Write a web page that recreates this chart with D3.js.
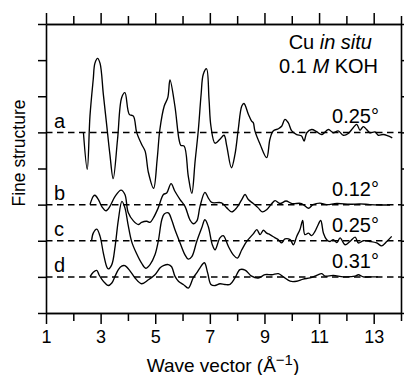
<!DOCTYPE html>
<html>
<head>
<meta charset="utf-8">
<script src="https://cdn.jsdelivr.net/npm/d3@7"></script>
<style>
  body { margin: 0; background: #fff; }
  svg { display: block; font-family: "Liberation Sans", Arial, Helvetica, sans-serif; }
</style>
</head>
<body>
<svg id="chart" width="404" height="375"></svg>
<script>
// ---------------- data ----------------
const majorTicks = [1, 3, 5, 7, 9, 11, 13];
const minorTicks = [2, 4, 6, 8, 10, 12, 14];
const yTicks = [0, 1, 2, 3, 4, 5, 6, 7, 8];
const curveNames = ["a", "b", "c", "d"];
const angleLabels = ["0.25°", "0.12°", "0.25°", "0.31°"];
const baselines = [5, 3, 2, 1];

// [wave vector, fine structure offset from baseline]
const curveA = [[2.37,0],[2.51,-1.02],[2.61,0.45],[2.73,1.47],[2.79,1.91],[2.89,2.05],[2.98,1.91],[3.10,1.05],[3.22,0.22],[3.34,-0.61],[3.46,-1.28],[3.62,-0.19],[3.77,0.96],[3.89,1.10],[4.05,0.50],[4.20,0.45],[4.32,0],[4.50,-0.33],[4.63,-0.52],[4.75,-1.11],[4.94,-1.55],[5.07,-0.75],[5.17,0.08],[5.33,0.73],[5.46,0.96],[5.54,1.45],[5.72,0.73],[5.87,-0.19],[5.94,-0.36],[6.06,-0.38],[6.21,-1.21],[6.34,-1.69],[6.46,-0.80],[6.58,0.08],[6.68,1.05],[6.76,1.61],[6.88,1.76],[6.97,0.91],[7.04,0.17],[7.19,-0.30],[7.37,-0.19],[7.52,-0.08],[7.62,-0.38],[7.79,-0.98],[7.92,-0.61],[8.04,0.08],[8.17,0.73],[8.25,0.80],[8.41,0.50],[8.53,0.31],[8.59,0.27],[8.65,0.04],[8.84,-0.33],[9.08,-0.70],[9.20,-0.19],[9.32,0.04],[9.51,0.10],[9.63,0.17],[9.75,0.36],[9.87,0.27],[10.00,0.04],[10.18,-0.06],[10.36,-0.10],[10.45,-0.24],[10.55,-0.01],[10.73,0.08],[10.91,0.02],[11.10,-0.06],[11.34,0.08],[11.52,-0.01],[11.70,0.04],[11.89,-0.08],[12.07,-0.03],[12.25,0.13],[12.38,0.22],[12.50,0.06],[12.62,0.16],[12.74,0.08],[12.86,-0.01],[13.05,0.01],[13.17,-0.08],[13.35,-0.06],[13.53,-0.10],[13.68,-0.15]];

const curveB = [[2.61,0],[2.73,0.23],[2.79,0.26],[2.92,0.14],[3.04,-0.05],[3.20,-0.17],[3.34,-0.05],[3.53,0.23],[3.75,0.40],[3.89,0.28],[4.01,-0.22],[4.20,-0.45],[4.38,-0.55],[4.50,-0.49],[4.69,-0.46],[4.81,-0.49],[4.93,-0.37],[5.11,-0.09],[5.30,0.28],[5.42,0.32],[5.58,0.58],[5.72,0.37],[5.91,0.14],[6.09,-0.05],[6.27,-0.42],[6.39,-0.53],[6.52,-0.46],[6.64,-0.05],[6.82,0.34],[6.94,0.19],[7.07,0.06],[7.43,0.05],[7.62,-0.09],[7.80,-0.20],[7.98,-0.09],[8.17,0.14],[8.29,0.28],[8.41,0.14],[8.59,0.03],[8.77,-0.09],[8.92,-0.20],[9.08,-0.14],[9.27,0.03],[9.39,0.11],[9.57,0.03],[9.79,0.10],[10.01,0.03],[10.36,0.03],[10.61,-0.10],[10.78,0],[11.03,0.04],[11.28,0],[11.65,0.03],[12.13,0.01],[12.50,0.02],[12.86,0],[13.23,-0.01],[13.60,-0.01]];

const curveC = [[2.67,0],[2.73,0.21],[2.86,0.32],[2.98,0.12],[3.10,-0.34],[3.22,-0.71],[3.28,-0.78],[3.41,-0.66],[3.53,-0.16],[3.65,0.58],[3.78,1.09],[3.89,0.91],[4.00,0.47],[4.14,-0.03],[4.32,-0.36],[4.50,-0.62],[4.65,-0.76],[4.81,-0.66],[4.99,-0.39],[5.11,-0.02],[5.24,0.58],[5.33,0.74],[5.48,0.77],[5.60,0.58],[5.72,0.31],[5.91,-0.06],[6.09,-0.39],[6.21,-0.51],[6.34,-0.44],[6.52,-0.02],[6.70,0.35],[6.82,0.58],[6.94,0.40],[7.09,-0.11],[7.19,-0.25],[7.37,0.08],[7.49,0.14],[7.68,-0.16],[7.86,-0.39],[8.01,-0.48],[8.17,-0.25],[8.35,-0.02],[8.59,0.19],[8.72,0.31],[8.84,0.17],[8.96,0.29],[9.08,0.21],[9.20,0.17],[9.39,0.08],[9.51,0.03],[9.63,-0.06],[9.75,0.05],[9.94,0.03],[10.06,-0.11],[10.18,0.12],[10.30,0.31],[10.40,0.56],[10.48,0.17],[10.61,0.21],[10.73,0.14],[10.85,0.26],[10.94,0.40],[11.06,0.56],[11.16,0.21],[11.28,0.03],[11.40,-0.02],[11.52,0.03],[11.65,-0.05],[11.77,0.08],[11.95,-0.11],[12.13,-0.02],[12.32,0.10],[12.44,-0.06],[12.62,0],[12.86,-0.02],[13.11,-0.06],[13.29,-0.14],[13.48,-0.02],[13.66,0.12]];

const curveD = [[2.61,0],[2.73,0.13],[2.86,0.18],[2.94,0.06],[3.04,-0.06],[3.16,-0.17],[3.28,-0.24],[3.41,-0.17],[3.53,0.02],[3.65,0.20],[3.77,0.30],[3.89,0.31],[4.08,0.16],[4.26,-0.03],[4.50,-0.19],[4.75,-0.08],[4.99,0.06],[5.18,0.25],[5.30,0.31],[5.48,0.34],[5.60,0.28],[5.72,0.02],[5.85,-0.12],[6.03,-0.21],[6.21,-0.31],[6.39,-0.03],[6.52,0.11],[6.64,0.25],[6.80,0.39],[6.92,0.11],[7.04,-0.21],[7.19,-0.24],[7.37,-0.19],[7.55,-0.21],[7.74,-0.21],[7.92,-0.03],[8.10,0.20],[8.29,0.19],[8.53,0.02],[8.77,-0.03],[9.02,0.06],[9.27,0.06],[9.51,0.09],[9.69,0],[9.94,-0.12],[10.18,-0.12],[10.42,-0.06],[10.67,-0.03],[10.91,0.04],[11.10,0.09],[11.22,0.02],[11.52,0.04],[11.89,0],[12.32,0.02],[12.44,0.06],[12.62,0],[12.86,0],[13.16,0]];

const curves = [curveA, curveB, curveC, curveD];

// ---------------- drawing ----------------
const svg = d3.select("#chart");
const L = 46, R = 401, T = 24, B = 313;
const x = d3.scaleLinear().domain([1, 14]).range([L, R]);
const y = d3.scaleLinear().domain([0, 8]).range([B, T]);

function styleAxis(g) {
  g.selectAll("path.domain").attr("stroke", "#000").attr("stroke-width", 1.6);
  g.selectAll(".tick line").attr("stroke", "#000").attr("stroke-width", 1.5);
}

// bottom axis (major, labelled)
svg.append("g").attr("transform", `translate(0,${B})`)
  .call(d3.axisBottom(x).tickValues(majorTicks).tickSize(11).tickSizeOuter(0).tickPadding(6).tickFormat(d3.format("d")))
  .call(styleAxis)
  .call(g => g.selectAll("text").attr("font-size", 18).attr("fill", "#000")
        .attr("font-family", "Liberation Sans, Arial, sans-serif").attr("dy", null).attr("y", 30));
svg.append("g").attr("transform", `translate(0,${B})`)
  .call(d3.axisBottom(x).tickValues(minorTicks).tickSize(8).tickSizeOuter(0).tickFormat(""))
  .call(styleAxis);
// top axis
svg.append("g").attr("transform", `translate(0,${T})`)
  .call(d3.axisTop(x).tickValues(majorTicks).tickSize(11).tickSizeOuter(0).tickFormat(""))
  .call(styleAxis);
svg.append("g").attr("transform", `translate(0,${T})`)
  .call(d3.axisTop(x).tickValues(minorTicks).tickSize(8).tickSizeOuter(0).tickFormat(""))
  .call(styleAxis);
// left / right axes
svg.append("g").attr("transform", `translate(${L},0)`)
  .call(d3.axisLeft(y).tickValues(yTicks).tickSize(8).tickSizeOuter(0).tickFormat(""))
  .call(styleAxis);
svg.append("g").attr("transform", `translate(${R},0)`)
  .call(d3.axisRight(y).tickValues(yTicks).tickSize(8).tickSizeOuter(0).tickFormat(""))
  .call(styleAxis);

// dashed baselines
svg.append("g").selectAll("line").data(baselines).join("line")
  .attr("x1", x(1)).attr("x2", x(14))
  .attr("y1", d => y(d)).attr("y2", d => y(d))
  .attr("stroke", "#000").attr("stroke-width", 1.5)
  .attr("stroke-dasharray", "6.5,4.5");

// curves
const line = d3.line().curve(d3.curveCatmullRom.alpha(0.5));
svg.append("g").selectAll("path").data(curves).join("path")
  .attr("d", (c, i) => line(c.map(p => [x(p[0]), y(baselines[i] + p[1])])))
  .attr("fill", "none").attr("stroke", "#000").attr("stroke-width", 1.35)
  .attr("stroke-linejoin", "round");

// curve letters
svg.append("g").selectAll("text").data(curveNames).join("text")
  .attr("x", 54).attr("y", (d, i) => y(baselines[i]) - 4.5)
  .attr("font-size", 20).text(d => d);

// angle labels
svg.append("g").selectAll("text").data(angleLabels).join("text")
  .attr("x", 379).attr("y", (d, i) => y(baselines[i]) - 9)
  .attr("text-anchor", "end").attr("font-size", 20).text(d => d);

// annotation
const t1 = svg.append("text").attr("x", 372).attr("y", 49).attr("text-anchor", "end").attr("font-size", 20);
t1.append("tspan").text("Cu ");
t1.append("tspan").attr("font-style", "italic").text("in situ");
const t2 = svg.append("text").attr("x", 378).attr("y", 73).attr("text-anchor", "end").attr("font-size", 20);
t2.append("tspan").text("0.1 ");
t2.append("tspan").attr("font-style", "italic").text("M");
t2.append("tspan").text(" KOH");

// axis titles
const xl = svg.append("text").attr("x", 223).attr("y", 372).attr("text-anchor", "middle").attr("font-size", 19);
xl.append("tspan").text("Wave vector (Å");
xl.append("tspan").attr("font-size", 15).attr("dy", -7).text("−1");
xl.append("tspan").attr("dy", 7).text(")");

svg.append("text").attr("transform", "translate(25,153) rotate(-90)")
  .attr("text-anchor", "middle").attr("font-size", 17.5).text("Fine structure");
</script>
</body>
</html>
